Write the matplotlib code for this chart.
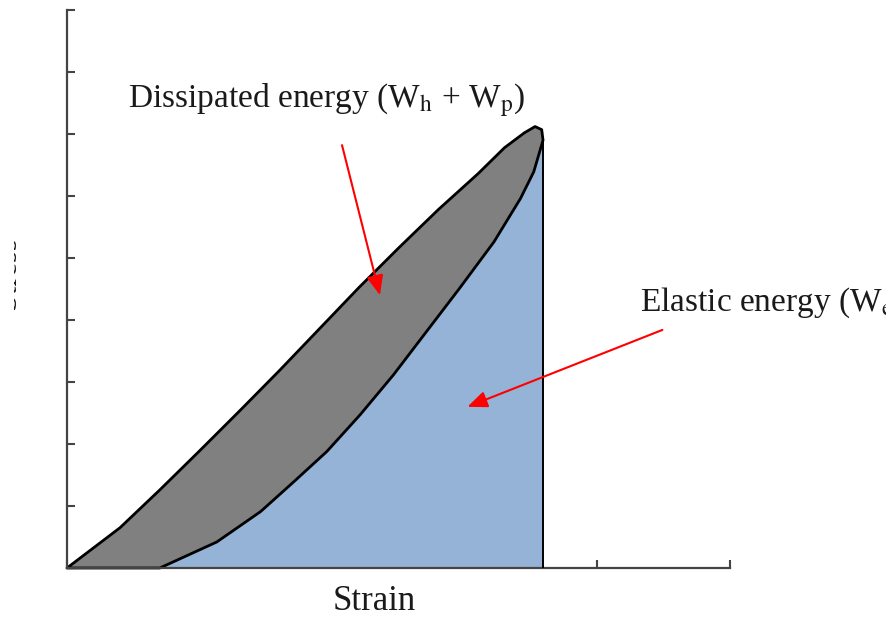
import matplotlib
matplotlib.use("Agg")
import matplotlib.pyplot as plt
from matplotlib.transforms import Bbox

plt.rcParams['font.family'] = ['Liberation Serif', 'DejaVu Serif']
plt.rcParams['mathtext.fontset'] = 'stix'

# Loading curve (upper edge of hysteresis loop)
upper_x = [0.00, 0.40, 0.70, 1.00, 1.30, 1.60, 1.90, 2.20, 2.50, 2.80, 3.10, 3.30, 3.45, 3.53, 3.58, 3.59]
upper_y = [0.00, 0.65, 1.26, 1.89, 2.53, 3.18, 3.85, 4.52, 5.16, 5.78, 6.36, 6.78, 7.02, 7.12, 7.07, 6.90]
# Unloading curve (lower edge)
lower_x = [0.70, 1.13, 1.46, 1.71, 1.96, 2.21, 2.46, 2.71, 2.96, 3.22, 3.42, 3.52, 3.59]
lower_y = [0.00, 0.42, 0.91, 1.39, 1.88, 2.47, 3.11, 3.81, 4.51, 5.26, 5.96, 6.39, 6.90]

y_ticks = [0, 1, 2, 3, 4, 5, 6, 7, 8, 9]
x_ticks = [0, 4, 5]

label_dissipated = "Dissipated energy (W$_\\mathrm{h}$ + W$_\\mathrm{p}$)"
label_elastic = "Elastic energy (W$_\\mathrm{e}$)"

W, H = 886, 618
fig = plt.figure(figsize=(W / 100, H / 100), dpi=100)
ax = fig.add_axes([67 / W, (618 - 568) / H, (730 - 67) / W, (568 - 10) / H])
ax.set_xlim(0, 5)
ax.set_ylim(0, 9)

gray = '#808080'
blue = '#95B3D7'

# Elastic (blue) region under the unloading curve
peak_x = lower_x[-1]
bx = lower_x + [peak_x, lower_x[0]]
by = lower_y + [0.0, 0.0]
ax.fill(bx, by, facecolor=blue, edgecolor='none', zorder=1)
ax.plot([peak_x, peak_x], [0, lower_y[-1]], color='black', lw=1.4, zorder=3)

# Dissipated (gray) region between the curves
gx = upper_x + lower_x[::-1] + [0.0]
gy = upper_y + lower_y[::-1] + [0.0]
ax.fill(gx, gy, facecolor=gray, edgecolor='black', lw=2.0, joinstyle='round',
        zorder=2, clip_on=False)

for s in ['top', 'right']:
    ax.spines[s].set_visible(False)
for s in ['left', 'bottom']:
    ax.spines[s].set_color('#444444')
    ax.spines[s].set_linewidth(1.6)
ax.set_yticks(y_ticks)
ax.set_xticks(x_ticks)
ax.tick_params(direction='in', length=6, width=1.5, color='#444444',
               labelleft=False, labelbottom=False)

# Arrows
akw = dict(arrowstyle='-|>,head_length=0.6,head_width=0.25', color='red', lw=1.5,
           mutation_scale=20, shrinkA=0, shrinkB=0)
ax.annotate('', xy=(2.36, 4.40), xytext=(2.074, 6.82), arrowprops=akw, zorder=5)
ax.annotate('', xy=(3.02, 2.60), xytext=(4.49, 3.84), arrowprops=akw, zorder=5,
            annotation_clip=False)

# Texts
fig.text(128 / W, 1 - 100 / H, label_dissipated, fontsize=24, ha='left', va='center',
         color='#1a1a1a')
fig.text(640 / W, 1 - 303 / H, label_elastic, fontsize=24, ha='left', va='center',
         color='#1a1a1a')
fig.text(374 / W, 1 - 601 / H, 'Strain', fontsize=25, ha='center', va='center',
         color='#1a1a1a')
t = fig.text(22 / W, 1 - 273 / H, 'Stress', fontsize=22, rotation=90,
             ha='right', va='center', color='#1a1a1a')
t.set_clip_box(Bbox.from_extents(14, 0, 40, H))
t.set_clip_on(True)

fig.savefig('out.png', dpi=100)
